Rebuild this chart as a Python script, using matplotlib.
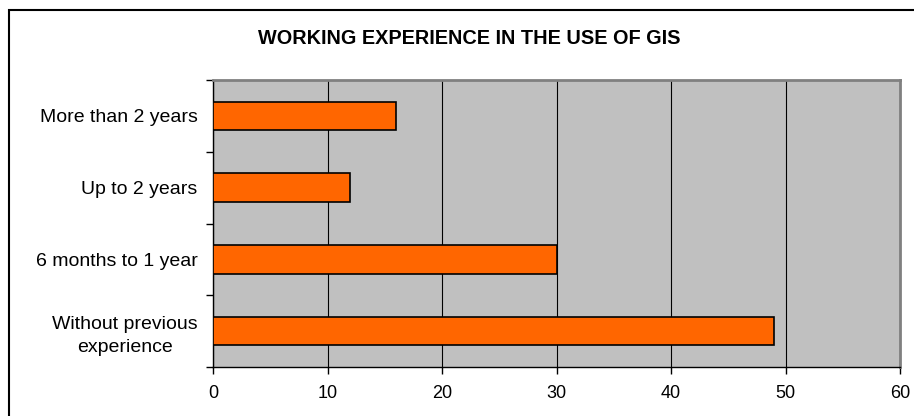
import matplotlib
matplotlib.use('Agg')
import matplotlib.pyplot as plt
from matplotlib.patches import Rectangle

plt.rcParams['font.family'] = ['Liberation Sans', 'DejaVu Sans']

categories = ['Without previous\nexperience', '6 months to 1 year', 'Up to 2 years', 'More than 2 years']
values = [49, 30, 12, 16]
x_ticks = [0, 10, 20, 30, 40, 50, 60]
title = 'WORKING EXPERIENCE IN THE USE OF GIS'

W, H = 914, 416
fig = plt.figure(figsize=(W / 100, H / 100), dpi=100)
ax = fig.add_axes([213 / W, 1 - 367 / H, (900 - 213) / W, (367 - 80) / H])

# chart border (only top and left visible in the original)
fig.patches.append(Rectangle((9 / W, -0.1), 1.2, 1 - 10 / H + 0.1, transform=fig.transFigure,
                             fill=False, edgecolor='black', linewidth=1.5))

ax.set_facecolor('#C0C0C0')
ypos = list(range(len(categories)))
ax.barh(ypos, values, height=0.4, color='#FF6600', edgecolor='black', linewidth=1.2, zorder=3)

ax.set_xlim(0, 60)
ax.set_ylim(-0.5, len(categories) - 0.5)
ax.set_xticks(x_ticks)
ax.set_xticklabels([str(t) for t in x_ticks], fontsize=13)
ax.xaxis.grid(True, color='black', linewidth=0.8, zorder=1)
ax.set_axisbelow(True)

ax.set_yticks([y - 0.5 for y in ypos] + [len(categories) - 0.5])
ax.set_yticklabels([])
ax.set_yticks(ypos, minor=True)
ax.set_yticklabels(categories, minor=True, fontsize=14, ha='right', multialignment='center',
                   linespacing=1.45)
ax.tick_params(axis='y', which='minor', length=0, pad=11)
ax.tick_params(axis='y', which='major', length=5, direction='out', width=1)
ax.tick_params(axis='x', length=5, direction='out', width=1, pad=8)

for s in ['top', 'right']:
    ax.spines[s].set_color('#808080')
    ax.spines[s].set_linewidth(2)
for s in ['left', 'bottom']:
    ax.spines[s].set_color('black')
    ax.spines[s].set_linewidth(1)

fig.text(469 / W, 1 - 38 / H, title, ha='center', va='center', fontsize=14.3, fontweight='bold')

fig.savefig('out.png', dpi=100, facecolor='white')
